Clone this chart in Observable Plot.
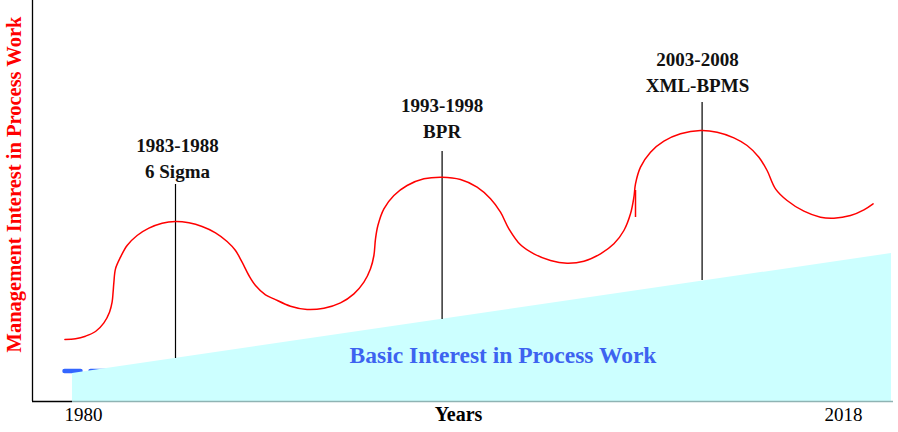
<!DOCTYPE html>
<html>
<head>
<meta charset="utf-8">
<script src="https://cdn.jsdelivr.net/npm/d3@7"></script>
<script src="https://cdn.jsdelivr.net/npm/@observablehq/plot@0.6"></script>
<style>
  html, body { margin: 0; padding: 0; background: #fff; }
  #chart svg { display: block; }
</style>
</head>
<body>
<div id="chart"></div>
<script>
// Management interest curve (year, interest level 0-100)
const managementCurve = [
  [1979.07, 15.5], [1979.6, 15.67], [1980.1, 16.33], [1980.6, 17.5], [1981.02, 19.67],
  [1981.3, 22.33], [1981.43, 24.83], [1981.48, 27.33], [1981.52, 29.83], [1981.6, 33.17],
  [1981.85, 36.08], [1982.18, 39.0], [1982.68, 41.5], [1983.27, 43.33], [1983.93, 44.58],
  [1984.6, 45.0], [1985.27, 44.67], [1985.93, 43.75], [1986.6, 42.17], [1987.18, 40.0],
  [1987.6, 37.75], [1987.93, 34.83], [1988.27, 31.5], [1988.6, 29.0], [1989.1, 26.67],
  [1989.52, 25.67], [1990.35, 23.83], [1991.18, 23.0], [1992.02, 23.33], [1992.85, 24.67],
  [1993.52, 26.92], [1994.02, 29.83], [1994.35, 33.17], [1994.52, 36.5], [1994.6, 40.67],
  [1994.72, 44.0], [1995.02, 48.17], [1995.52, 51.5], [1996.18, 54.0], [1997.02, 55.67],
  [1997.93, 56.08], [1998.85, 55.5], [1999.68, 53.58], [2000.35, 50.67], [2000.85, 47.33],
  [2001.27, 43.17], [2001.85, 39.17], [2002.52, 36.92], [2003.35, 35.25], [2004.18, 34.58],
  [2005.02, 35.08], [2005.85, 36.92], [2006.52, 39.42], [2007.02, 42.75], [2007.35, 46.92],
  [2007.52, 51.08], [2007.6, 54.42], [2007.85, 58.58], [2008.35, 62.33], [2009.02, 65.08],
  [2009.85, 66.92], [2010.85, 67.75], [2011.68, 67.33], [2012.52, 65.92], [2013.18, 64.0],
  [2013.77, 61.08], [2014.18, 57.75], [2014.6, 53.17], [2015.18, 50.25], [2016.02, 47.58],
  [2016.85, 46.08], [2017.52, 45.83], [2018.35, 46.5], [2019.02, 47.92], [2019.48, 49.42]
];
// small stray red tick on the third rise
const strayTick = {x: 2007.6, y1: 46.0, y2: 52.75};

// Basic interest in process work: a rising wedge
const basicYears = [1979.45, 2020.4];
const basicValues = [7.0, 37.0];

// Eras
const eraPeriods = ["1983-1988", "1993-1998", "2003-2008"];
const eraNames = ["6 Sigma", "BPR", "XML-BPMS"];
const eraMarkerYears = [1984.6, 1997.93, 2010.93];
const eraMarkerLow = [10.75, 20.5, 30.25];
const eraMarkerHigh = [54.25, 62.5, 74.75];
const eraLabelYears = [1984.7, 1997.93, 2010.7];
const eraLabelLevels = [56.0, 66.0, 77.5];

// Axis labels
const tickYears = [1980, 2018];
const tickWeights = ["normal", "bold"];
const xTitle = "Years";
const yTitle = "Management Interest in Process Work";
const basicTitle = "Basic Interest in Process Work";

// Short blue dashes at the start of the wedge
const dashYears = [1979.05, 1981.15];
const dashLevel = 7.6;

const xMin = 1977.45, xMax = 2020.5;

const eras = eraPeriods.map((p, i) => ({
  label: p + "\n" + eraNames[i],
  lx: eraLabelYears[i], ly: eraLabelLevels[i],
  x: eraMarkerYears[i], y1: eraMarkerLow[i], y2: eraMarkerHigh[i]
}));
const basic = basicYears.map((x, i) => ({x, y: basicValues[i]}));
const ticks = tickYears.map((x, i) => ({x, w: tickWeights[i]}));
const curve = managementCurve.map(([x, y]) => ({x, y}));

const font = "Liberation Serif";

const chart = Plot.plot({
  width: 898,
  height: 432,
  marginLeft: 32,
  marginRight: 5,
  marginTop: 1,
  marginBottom: 31,
  x: {domain: [xMin, xMax], axis: null},
  y: {domain: [0, 100], axis: null},
  style: {background: "#ffffff", overflow: "visible"},
  marks: [
    // blue dashes
    Plot.line(dashYears.map(x => ({x, y: dashLevel})), {
      x: "x", y: "y", stroke: "#3366ff", strokeWidth: 4.5, strokeDasharray: "16,10"
    }),
    // basic interest wedge
    Plot.areaY(basic, {x: "x", y: "y", fill: "#ccffff"}),
    // axes lines
    Plot.ruleX([xMin], {y1: 0, y2: 100.25, stroke: "#000", strokeWidth: 1.3}),
    Plot.ruleY([0], {x1: xMin, x2: basicYears[0], stroke: "#000", strokeWidth: 1.3}),
    Plot.ruleY([0], {x1: basicYears[0], x2: xMax, stroke: "#8fb3b3", strokeWidth: 1.3}),
    // era markers
    Plot.ruleX(eras, {x: "x", y1: "y1", y2: "y2", stroke: "#000", strokeWidth: 1.2}),
    // management curve
    Plot.line(curve, {x: "x", y: "y", stroke: "#ff0000", strokeWidth: 1.5, curve: "catmull-rom"}),
    Plot.ruleX([strayTick], {x: "x", y1: "y1", y2: "y2", stroke: "#ff0000", strokeWidth: 1.5}),
    // era labels
    Plot.text(eras, {
      x: "lx", y: "ly", text: "label", lineAnchor: "bottom", textAnchor: "middle",
      fontFamily: font, fontWeight: "bold", fontSize: 19, lineHeight: 1.32, fill: "#111"
    }),
    // basic title
    Plot.text([basicTitle], {
      x: 2000.975, y: 9.75, text: d => d, lineAnchor: "bottom", textAnchor: "middle",
      fontFamily: font, fontWeight: "bold", fontSize: 23.5, fill: "#3d63f0"
    }),
    // tick labels
    Plot.text(ticks, {
      x: "x", y: -4.75, text: d => String(d.x), lineAnchor: "bottom", textAnchor: "middle",
      fontFamily: font, fontWeight: d => d.w, fontSize: 19, fill: "#000"
    }),
    Plot.text([xTitle], {
      x: 1998.75, y: -4.75, text: d => d, lineAnchor: "bottom", textAnchor: "middle",
      fontFamily: font, fontWeight: "bold", fontSize: 20, fill: "#000"
    }),
    // y title
    Plot.text([yTitle], {
      x: 1976.55, y: 54.25, text: d => d, rotate: -90, lineAnchor: "middle", textAnchor: "middle",
      fontFamily: font, fontWeight: "bold", fontSize: 20.5, fill: "#ff0000"
    })
  ]
});
document.getElementById("chart").appendChild(chart);
</script>
</body>
</html>
